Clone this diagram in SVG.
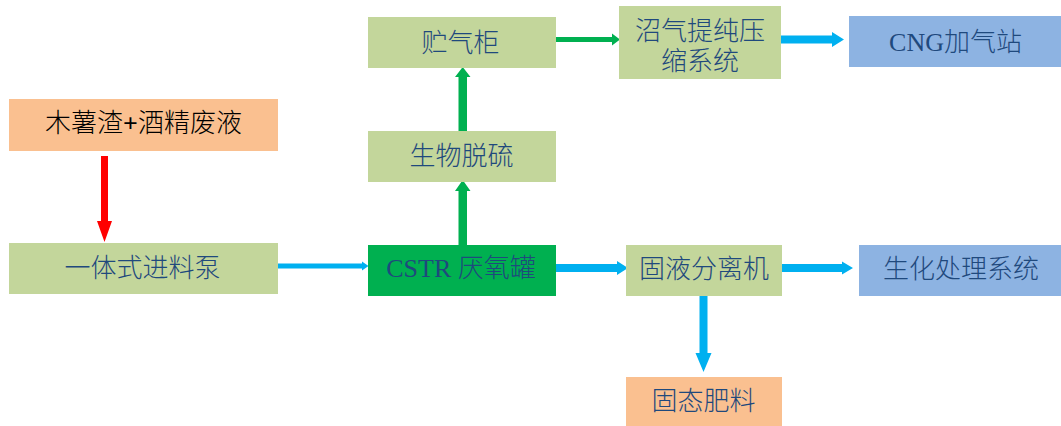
<svg xmlns="http://www.w3.org/2000/svg" width="1061" height="426" viewBox="0 0 1061 426">
<style>
.lg{fill:#C3D69B}
.pe{fill:#FAC090}
.bl{fill:#8DB3E2}
.gr{fill:#00B050}
.t{font-family:"Liberation Serif","Noto Sans CJK SC",serif;font-size:26px;font-weight:300;fill:#1F497D;text-anchor:middle}
.k{fill:#000}
.ab{fill:#00B0F0}
.ag{fill:#00B050}
.ar{fill:#FF0000}
</style>
<rect width="1061" height="426" fill="#fff"/>
<g id="connectors">
<polygon class="ar" points="101,156 108,156 108,221 112,221 104.5,242 97,221 101,221"/>
<polygon class="ab" points="278,263.5 362,263.5 362,261.5 368.5,266 362,270.5 362,268.5 278,268.5"/>
<polygon class="ab" points="556,264 617,264 617,261 628,268 617,275 617,272 556,272"/>
<polygon class="ab" points="782,264 842,264 842,261.5 853,268 842,274.5 842,272 782,272"/>
<polygon class="ab" points="699.5,296 707.5,296 707.5,353 711.5,353 703.5,372 695.5,353 699.5,353"/>
<polygon class="ab" points="781,35.5 832,35.5 832,32 844,39.5 832,47 832,43.5 781,43.5"/>
<polygon class="ag" points="556,37 612,37 612,33.5 620,39.5 612,45.5 612,42 556,42"/>
<polygon class="ag" points="458.5,245 467,245 467,191 470.5,191 462.7,180 455,191 458.5,191"/>
<polygon class="ag" points="458.5,131 467,131 467,77 470.5,77 462.7,67 455,77 458.5,77"/>
</g>
<g id="n-raw">
<rect class="pe" x="9" y="99" width="269" height="52"/>
<text class="t k" x="143.5" y="131.5">木薯渣<tspan font-weight="bold">+</tspan>酒精废液</text>
</g>
<g id="n-pump">
<rect class="lg" x="9" y="243" width="269" height="51"/>
<text class="t" x="142.5" y="277">一体式进料泵</text>
</g>
<g id="n-cstr">
<rect class="gr" x="368" y="245" width="188" height="51"/>
<text class="t" x="461" y="277">CSTR 厌氧罐</text>
</g>
<g id="n-sep">
<rect class="lg" x="626" y="245" width="156" height="51"/>
<text class="t" x="704" y="277.5">固液分离机</text>
</g>
<g id="n-bio">
<rect class="bl" x="859" y="245" width="202" height="51"/>
<text class="t" x="961" y="278">生化处理系统</text>
</g>
<g id="n-fert">
<rect class="pe" x="626" y="377" width="156" height="50"/>
<text class="t" x="703.5" y="410">固态肥料</text>
</g>
<g id="n-desulf">
<rect class="lg" x="368" y="131" width="188" height="51"/>
<text class="t" x="461.5" y="165">生物脱硫</text>
</g>
<g id="n-tank">
<rect class="lg" x="368" y="17" width="188" height="51"/>
<text class="t" x="460.5" y="51.5">贮气柜</text>
</g>
<g id="n-purify">
<rect class="lg" x="619" y="6" width="162" height="73"/>
<text class="t" x="700" y="39.5">沼气提纯压</text>
<text class="t" x="700" y="69.5">缩系统</text>
</g>
<g id="n-cng">
<rect class="bl" x="849" y="16" width="212" height="51"/>
<text class="t" x="955.5" y="51">CNG加气站</text>
</g>
</svg>
